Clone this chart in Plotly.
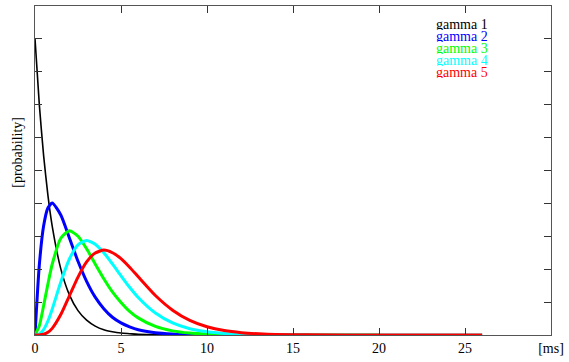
import plotly.graph_objects as go

# time axis samples [ms]
t = [0, 0.25, 0.5, 0.75, 1, 1.5, 2, 2.5, 3, 3.5, 4, 4.5, 5, 5.5, 6,
     7, 8, 9, 10, 11, 12, 13, 14, 16, 20, 26]

gamma1 = [0.900, 0.701, 0.546, 0.425, 0.331, 0.201, 0.122, 0.074, 0.045, 0.027,
          0.016, 0.010, 0.006, 0.004, 0.002, 0.001, 0.0, 0.0, 0.0, 0.0, 0.0, 0.0,
          0.0, 0.0, None, None]
gamma2 = [0.0, 0.212, 0.331, 0.386, 0.401, 0.365, 0.295, 0.224, 0.163, 0.115,
          0.080, 0.054, 0.037, 0.025, 0.016, 0.007, 0.003, 0.001, 0.0, 0.0, 0.0,
          0.0, 0.0, 0.0, None, None]
gamma3 = [0.0, 0.028, 0.089, 0.155, 0.215, 0.294, 0.317, 0.300, 0.262, 0.216,
          0.171, 0.131, 0.099, 0.072, 0.052, 0.026, 0.0125, 0.0058, 0.0027, 0.0012,
          0.0005, 0.0002, 0.0, 0.0, 0.0, None]
gamma4 = [0.0, 0.0026, 0.0162, 0.0425, 0.0785, 0.161, 0.231, 0.274, 0.287, 0.276,
          0.250, 0.216, 0.180, 0.145, 0.114, 0.0667, 0.0366, 0.0191, 0.0097, 0.0047,
          0.0023, 0.0011, 0.0005, 0.0001, 0.0, 0.0]
gamma5 = [0.0, 0.0002, 0.0021, 0.0082, 0.0202, 0.0621, 0.119, 0.176, 0.222, 0.249,
          0.258, 0.250, 0.232, 0.206, 0.177, 0.120, 0.0755, 0.0444, 0.025, 0.0134,
          0.0070, 0.0036, 0.0018, 0.0004, 0.0, 0.0]

names = ["gamma 1", "gamma 2", "gamma 3", "gamma 4", "gamma 5"]
series = [gamma1, gamma2, gamma3, gamma4, gamma5]
colors = ["#000000", "#0000ff", "#00ff00", "#00ffff", "#ff0000"]
widths = [1.6, 3, 3, 3, 3]

xtick_vals = [0, 5, 10, 15, 20, 25, 30]
xtick_text = ["0", "5", "10", "15", "20", "25", "[ms]"]

FONT = "Liberation Serif"

fig = go.Figure()
for name, ys, c, w in zip(names, series, colors, widths):
    fig.add_trace(go.Scatter(
        x=t, y=ys, name=name, mode="lines",
        line=dict(color=c, width=w, shape="spline", smoothing=0.6),
        connectgaps=False, showlegend=False,
    ))

W, H = 569, 362
L, R, T, B = 35, 13, 5, 27
pw, ph = W - L - R, H - T - B

# legend as right-aligned coloured text (gnuplot style)
for i, (name, c) in enumerate(zip(names, colors)):
    ypix = 22.7 + 12.1 * i
    fig.add_annotation(
        text=name, xref="paper", yref="paper",
        x=(493 - L) / pw, y=(H - B - ypix) / ph,
        xanchor="right", yanchor="middle", showarrow=False,
        height=12, valign="middle", borderpad=0,
        font=dict(family=FONT, size=14, color=c),
    )

fig.add_annotation(
    text="[probability]", xref="paper", yref="paper",
    x=(17 - L) / pw, y=(H - B - 152) / ph, textangle=-90,
    xanchor="center", yanchor="middle", showarrow=False,
    font=dict(family=FONT, size=14, color="#000000"),
)

axis_common = dict(
    showgrid=False, zeroline=False, showline=True, linecolor="#555555",
    linewidth=1, ticks="inside", ticklen=7, tickcolor="#333333",
    mirror="ticks",
)

fig.update_layout(
    width=W, height=H,
    margin=dict(l=L, r=R, t=T, b=B, pad=0),
    paper_bgcolor="white", plot_bgcolor="white",
    font=dict(family=FONT, size=14, color="#000000"),
    xaxis=dict(range=[0, 30], tickvals=xtick_vals, ticktext=xtick_text,
               **axis_common),
    yaxis=dict(range=[0, 1], dtick=0.1, tick0=0, showticklabels=False,
               **axis_common),
)

fig.write_html("out.html")
